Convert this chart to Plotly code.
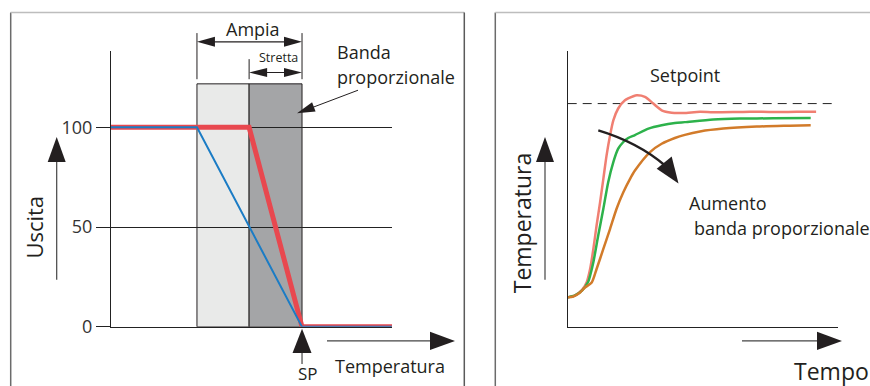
import plotly.graph_objects as go
import math

W = 870
REF_H = 386
H = 398   # page is captured taller than the reference; paper fractions follow the reference

# ---------------- Left chart data (Uscita vs Temperatura) ----------------
out_tick_vals = [0, 50, 100]
out_tick_text = ["0", "50", "100"]
band_wide = [45.0, 100.0]      # "Ampia" proportional band
band_narrow = [72.3, 100.0]    # "Stretta" proportional band
band_top = 121.8
sp_temp = 100.0
wide_x = [0, 45.0, 100.0, 147.0]
wide_y = [100, 100, 0, 0]
narrow_x = [0, 72.3, 100.0, 148.5]
narrow_y = [100, 100, 0, 0]

# ---------------- Right chart data (Temperatura vs Tempo) ----------------
setpoint_level = 100.0
t_red = [0, 2.7, 5.3, 7.0, 8.3, 9.5, 10.7, 12.0, 13.2, 14.4, 15.7, 16.9, 18.7, 21.2, 24.3,
         25.6, 28.6, 31.7, 34.8, 38.5, 42.8, 49.0, 53.8, 61.2, 67.5, 76.0, 84.8, 92.0]
y_red = [13.2, 14.1, 16.6, 19.9, 25.9, 34.9, 45.4, 55.8, 66.3, 76.8, 85.8, 92.5, 97.8, 101.5,
         103.3, 103.7, 103.0, 100.0, 97.0, 95.9, 95.8, 96.3, 96.1, 96.2, 96.4, 96.2, 96.3, 96.3]
t_green = [0, 2.7, 5.3, 7.6, 8.3, 9.5, 11.3, 13.2, 15.0, 16.9, 18.7, 20.6, 22.4, 24.9,
           29.9, 34.8, 39.7, 43.4, 53.9, 63.8, 76.1, 90.0]
y_green = [13.2, 14.1, 16.2, 20.2, 22.9, 28.9, 40.9, 52.9, 64.8, 73.8, 79.8, 82.8, 84.6, 85.9,
           88.8, 90.3, 91.3, 91.7, 92.9, 93.3, 93.4, 93.5]
t_orange = [0, 2.1, 4.6, 6.4, 8.9, 10.7, 13.2, 15.7, 18.1, 20.6, 23.1, 24.9, 30.5, 34.8,
            39.7, 43.4, 49.0, 57.6, 70.0, 82.3, 90.0]
y_orange = [13.2, 13.6, 15.4, 17.6, 19.9, 25.9, 34.9, 43.9, 52.9, 60.3, 66.3, 70.0, 78.3, 82.0,
            84.6, 86.0, 87.5, 88.8, 89.7, 90.1, 90.3]

# ---------------- geometry (reference pixels) ----------------
L_X = (111.0, 392.0)   # pixel extent of left x axis
R_X = (567.7, 837.7)   # pixel extent of right x axis
Y_PX = (326.0, 51.0)   # pixel extent (bottom, top) of both y axes
L_XRANGE = [0, 147.1]
L_YRANGE = [0, 138.2]
R_XRANGE = [0, 100]
R_YRANGE = [0, 123.5]


def PX(x):
    return x / W


def PY(y):
    return 1 - y / REF_H


def lx(v):  # left data x -> reference pixel
    return L_X[0] + (v - L_XRANGE[0]) / (L_XRANGE[1] - L_XRANGE[0]) * (L_X[1] - L_X[0])


INK = "#231f20"
FONT = "Open Sans"

fig = go.Figure()

# left chart traces
fig.add_trace(go.Scatter(x=narrow_x, y=narrow_y, mode="lines", xaxis="x", yaxis="y",
                         line=dict(color="#e8484f", width=5), cliponaxis=False,
                         hoverinfo="skip", showlegend=False))
fig.add_trace(go.Scatter(x=wide_x, y=wide_y, mode="lines", xaxis="x", yaxis="y",
                         line=dict(color="#1b7cc5", width=2), cliponaxis=False,
                         hoverinfo="skip", showlegend=False))

# right chart traces
fig.add_trace(go.Scatter(x=[R_XRANGE[0], R_XRANGE[1]], y=[setpoint_level, setpoint_level],
                         mode="lines", xaxis="x2", yaxis="y2",
                         line=dict(color="#222", width=1, dash="9px,6px"),
                         hoverinfo="skip", showlegend=False))
for tx, ty, col in [(t_red, y_red, "#f07f72"), (t_green, y_green, "#2db24b"),
                    (t_orange, y_orange, "#d27b2a")]:
    fig.add_trace(go.Scatter(x=tx, y=ty, mode="lines", xaxis="x2", yaxis="y2",
                             line=dict(color=col, width=2.5, shape="spline", smoothing=0.7),
                             cliponaxis=False, hoverinfo="skip", showlegend=False))

shapes = []


def seg(x0, y0, x1, y1, color=INK, width=1):
    shapes.append(dict(type="line", xref="paper", yref="paper",
                       x0=PX(x0), y0=PY(y0), x1=PX(x1), y1=PY(y1),
                       line=dict(color=color, width=width)))


def tri(p0, p1, p2, color=INK):
    path = "M {},{} L {},{} L {},{} Z".format(PX(p0[0]), PY(p0[1]), PX(p1[0]), PY(p1[1]),
                                             PX(p2[0]), PY(p2[1]))
    shapes.append(dict(type="path", xref="paper", yref="paper", path=path,
                       fillcolor=color, line=dict(width=0)))


def head(tip, frm, length=18, half=5, color=INK):
    dx, dy = frm[0] - tip[0], frm[1] - tip[1]
    n = math.hypot(dx, dy)
    ux, uy = dx / n, dy / n
    bx, by = tip[0] + ux * length, tip[1] + uy * length
    px_, py_ = -uy, ux
    tri(tip, (bx + px_ * half, by + py_ * half), (bx - px_ * half, by - py_ * half), color)


# bands (data coords)
shapes.append(dict(type="rect", xref="x", yref="y", layer="below",
                   x0=band_wide[0], x1=band_narrow[0], y0=0, y1=band_top,
                   fillcolor="#e9eae9", line=dict(color=INK, width=1)))
shapes.append(dict(type="rect", xref="x", yref="y", layer="below",
                   x0=band_narrow[0], x1=band_narrow[1], y0=0, y1=band_top,
                   fillcolor="#a4a5a7", line=dict(color=INK, width=1)))

# panel borders
seg(10.7, 12.5, 10.7, 400, "#6b6b6b", 1.5)
seg(10.7, 12.5, 464.3, 12.5, "#bdbdbd", 1.5)
seg(464.3, 12.5, 464.3, 400, "#5a5a5a", 1.5)
seg(495.3, 12.5, 495.3, 400, "#6b6b6b", 1.5)
seg(495.3, 12.5, 872, 12.5, "#bdbdbd", 1.5)

# Ampia / Stretta brackets
xa0, xn0, xsp = lx(band_wide[0]), lx(band_narrow[0]), lx(sp_temp)
seg(xa0, 33, xa0, 79)
seg(xsp, 33, xsp, 79)
seg(xn0, 59, xn0, 79)
seg(xa0 + 10, 41.7, xsp - 10, 41.7, INK, 1.2)
head((xa0, 41.7), (xsp, 41.7), 18, 5)
head((xsp, 41.7), (xa0, 41.7), 18, 5)
seg(xn0 + 10, 72.3, xsp - 10, 72.3, INK, 1.2)
head((xn0, 72.3), (xsp, 72.3), 18, 4.5)
head((xsp, 72.3), (xn0, 72.3), 18, 4.5)

# Banda proporzionale pointer
seg(358, 90, 305, 110, INK, 1)
head((297, 113), (358, 90), 18, 5)

# Uscita arrow
seg(56.7, 279, 56.7, 158, "#444", 1.2)
tri((56.7, 136.7), (47.7, 161.7), (65.7, 161.7))
# Temperatura arrow (left)
seg(327, 340, 433, 340, "#444", 1.2)
tri((455, 340), (430, 331), (430, 349))
# SP arrow
seg(xsp, 363, xsp, 350, "#444", 1.2)
tri((xsp, 328), (xsp - 9.5, 352), (xsp + 9.5, 352))

# Right: Temperatura arrow
seg(545, 279, 545, 158, "#444", 1.2)
tri((545, 136.7), (536, 161.7), (554, 161.7))
# Tempo arrow
seg(742, 340, 819, 340, "#444", 1.2)
tri((842, 340), (817, 331), (817, 349))

# curved arrow (increase of proportional band)
shapes.append(dict(type="path", xref="paper", yref="paper",
                   path="M {},{} Q {},{} {},{}".format(PX(598.3), PY(130), PX(638), PY(142),
                                                      PX(665), PY(165)),
                   line=dict(color=INK, width=2.5)))
tri((678.5, 183), (656.7, 168.3), (671.7, 156.2))

annotations = []


def text(s, x, y, size, xanchor="center", yanchor="middle", angle=0, family=FONT):
    annotations.append(dict(text=s, x=PX(x), y=PY(y), xref="paper", yref="paper",
                            showarrow=False, xanchor=xanchor, yanchor=yanchor,
                            textangle=angle, font=dict(family=family, size=size, color=INK)))


text("Ampia", 253, 29, 18)
text("Stretta", 278.5, 57, 12.5)
text("Banda", 335, 52, 18, "left")
text("proporzionale", 335, 77, 18, "left")
text("Uscita", 34, 227, 22, angle=-90)
text("Temperatura", 333, 365, 18, "left")
text("SP", 308, 372.5, 17)
text("Setpoint", 648, 75, 18, "left")
text("Aumento", 687, 202, 18, "left")
text("banda proporzionale", 692, 227, 18, "left")
text("Temperatura", 521.7, 222, 23, angle=-90)
text("Tempo", 791.7, 370, 23, "left")

axis_line = dict(showline=True, linecolor="#222", linewidth=1, zeroline=False, fixedrange=True)

fig.update_layout(
    width=W, height=H, margin=dict(l=0, r=0, t=0, b=0),
    paper_bgcolor="white", plot_bgcolor="rgba(0,0,0,0)",
    showlegend=False,
    xaxis=dict(domain=[PX(L_X[0]), PX(L_X[1])], range=L_XRANGE, anchor="y",
               showgrid=False, showticklabels=False, ticks="", **axis_line),
    yaxis=dict(domain=[PY(Y_PX[0]), PY(Y_PX[1])], range=L_YRANGE, anchor="x",
               tickvals=out_tick_vals, ticktext=out_tick_text, ticks="outside", ticklen=14,
               tickcolor="#222", tickwidth=1, showgrid=True, gridcolor="#222", gridwidth=1,
               tickfont=dict(family=FONT, size=18, color="#333"), **axis_line),
    xaxis2=dict(domain=[PX(R_X[0]), PX(R_X[1])], range=R_XRANGE, anchor="y2",
                showgrid=False, showticklabels=False, ticks="", **axis_line),
    yaxis2=dict(domain=[PY(Y_PX[0]), PY(Y_PX[1])], range=R_YRANGE, anchor="x2",
                showgrid=False, showticklabels=False, ticks="", **axis_line),
    shapes=shapes, annotations=annotations,
)

# remove the browser's default 8px page margin so the figure fills the window exactly
fig.write_html("out.html", config={"displayModeBar": False},
               post_script="document.body.style.margin='0';document.body.style.overflow='hidden';")
